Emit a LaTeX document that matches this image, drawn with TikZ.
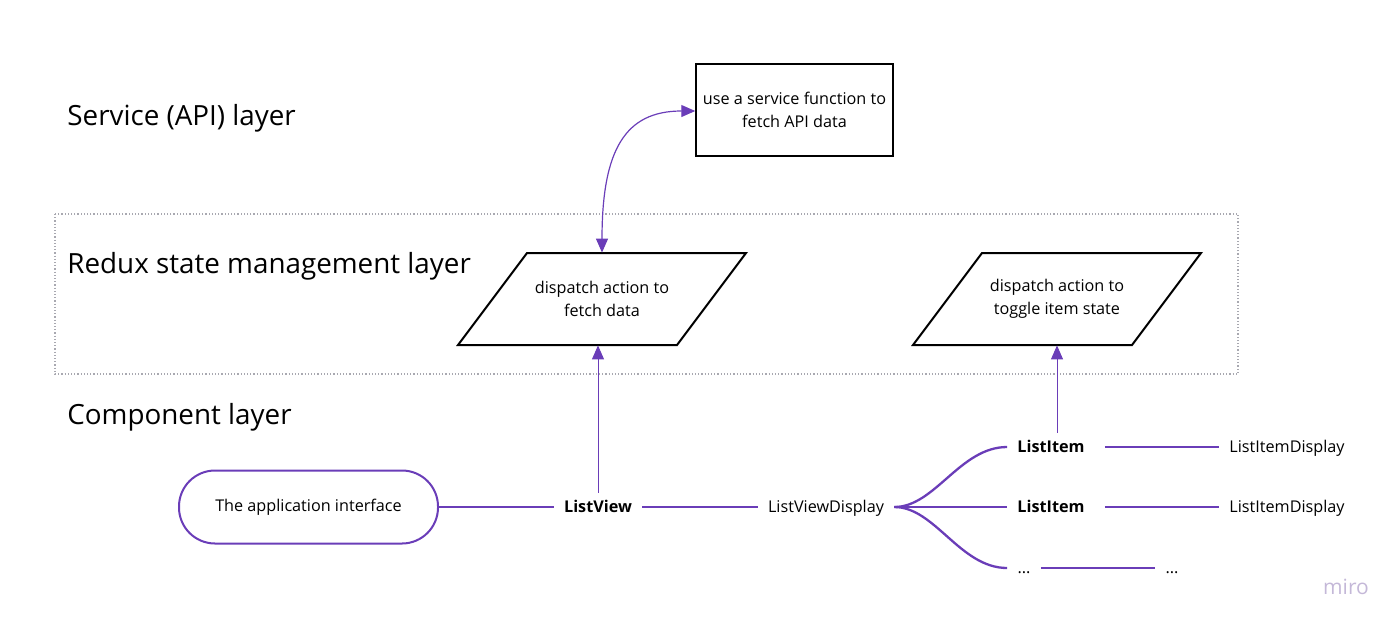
\documentclass[tikz,border=0pt]{standalone}
\usepackage{fontspec}
\setmainfont{Open Sans}
\usetikzlibrary{arrows.meta,calc}
\definecolor{vio}{HTML}{6A3DB8}
\definecolor{dotgray}{HTML}{A8A8B0}
\definecolor{miroc}{HTML}{C4B8D8}
\tikzset{
  biglabel/.style={anchor=west,font=\fontsize{13.9}{16}\selectfont,inner sep=0pt},
  small/.style={font=\fontsize{8.1}{11.5}\selectfont,align=center},
  boldsmall/.style={font=\fontsize{8.1}{10}\selectfont\bfseries,inner xsep=5pt,text height=6pt,text depth=1pt},
  plainsmall/.style={font=\fontsize{8.1}{10}\selectfont,inner xsep=5pt,text height=6pt,text depth=1pt},
  link/.style={draw=vio,line width=1.15pt},
  thinarrow/.style={draw=vio,line width=0.5pt,-{Triangle[length=7pt,width=6pt]}},
  para/.style={draw=black,line width=1pt,line join=miter},
}
\begin{document}
\begin{tikzpicture}[x=0.5pt,y=-0.5pt]
\useasboundingbox (0,0) rectangle (1400,627);
% layer labels
\node[biglabel] (lsvc) at (67,118) {Service (API) layer};
\node[biglabel] (lred) at (67,266) {Redux state management layer};
\node[biglabel] (lcmp) at (67,417) {Component layer};
% dotted frame
\draw[dotgray,line width=0.6pt,dash pattern=on 0.6pt off 1pt] (55,214) rectangle (1238,374);
% service box
\node[draw=black,line width=1pt,small,minimum width=97.5pt,minimum height=46pt] (svc) at (794.5,110) {use a service function to\\fetch API data};
% parallelograms
\draw[para] (527,253) -- (746,253) -- (677,345) -- (458,345) -- cycle;
\node[small,minimum width=110pt,minimum height=46pt,inner sep=0pt] (p1) at (602,299) {dispatch action to\\fetch data};
\draw[para] (982,253) -- (1201,253) -- (1132,345) -- (913,345) -- cycle;
\node[small,minimum width=110pt,minimum height=46pt,inner sep=0pt] (p2) at (1057,299) {dispatch action to\\toggle item state};
% double arrow
\draw[draw=vio,line width=0.6pt,{Triangle[length=7pt,width=6pt]}-{Triangle[length=7pt,width=6pt]}]
  (p1.north) .. controls (602,150) and (625,111) .. (svc.west |- 0,111);
% component row
\node[draw=vio,line width=1pt,rounded corners=18pt,minimum width=129.5pt,minimum height=36.5pt,font=\fontsize{8.1}{10}\selectfont] (app) at (308.5,507) {The application interface};
\node[boldsmall] (lv) at (598,507) {ListView};
\node[plainsmall] (lvd) at (826,507) {ListViewDisplay};
\node[boldsmall] (li1) at (1051,447) {ListItem};
\node[boldsmall] (li2) at (1051,507) {ListItem};
\node[plainsmall,inner xsep=5pt] (li3) at (1024,568) {...};
\node[plainsmall] (lid1) at (1287,447) {ListItemDisplay};
\node[plainsmall] (lid2) at (1287,507) {ListItemDisplay};
\node[plainsmall,inner xsep=5pt] (lid3) at (1172,568) {...};
\draw[link] (app.east) -- (lv.west);
\draw[link] (lv.east) -- (lvd.west);
\draw[link] (lvd.east) .. controls (935,507) and (960,447) .. (li1.west);
\draw[link] (lvd.east) -- (li2.west);
\draw[link] (lvd.east) .. controls (935,507) and (960,568) .. (li3.west);
\draw[link,shorten <=5pt] (li1.east) -- (lid1.west);
\draw[link,shorten <=5pt] (li2.east) -- (lid2.west);
\draw[link] (li3.east) -- (lid3.west);
% vertical arrows
\draw[thinarrow] (lv.north) -- (lv.north |- p1.south);
\draw[thinarrow] (li1.north -| p2.south) -- (p2.south);
% watermark
\node[font=\fontsize{10.5}{12}\selectfont,text=miroc] (miro) at (1346,587) {miro};
\end{tikzpicture}
\end{document}
